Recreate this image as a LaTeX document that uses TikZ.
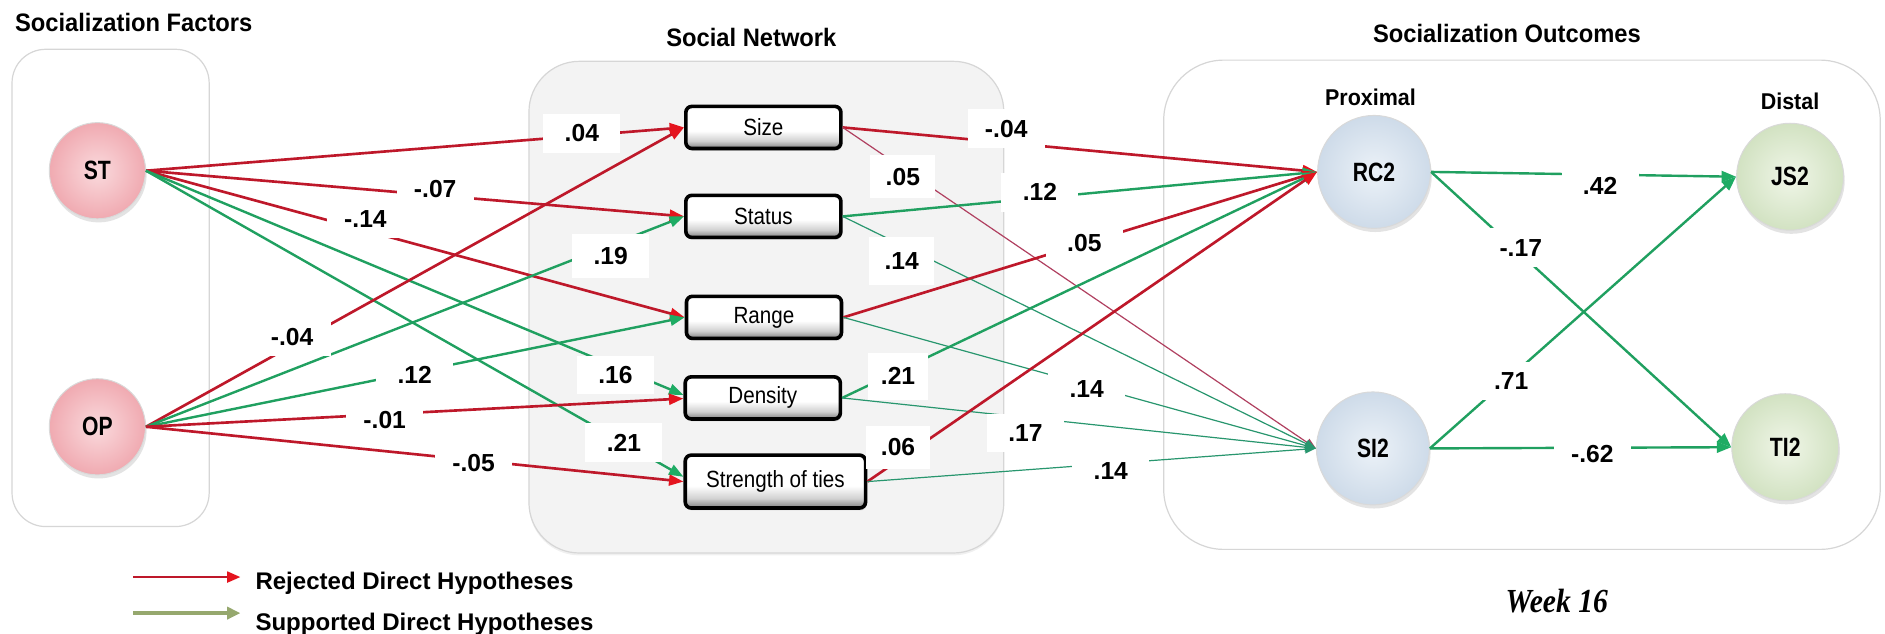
\documentclass[tikz,border=0pt]{standalone}
\usepackage{fontspec}
\setmainfont{Liberation Sans}
\newfontfamily\narrowsans{Liberation Sans}[FakeStretch=0.88]
\newfontfamily\tallsans{Liberation Sans}[FakeStretch=0.8]
\newfontfamily\headsans{Liberation Sans}[FakeStretch=0.94]
\newfontfamily\weekserif{Liberation Serif}[FakeStretch=0.88]
\usetikzlibrary{arrows.meta,shadows}

\definecolor{rejline}{RGB}{190,24,42}
\definecolor{rejhead}{RGB}{228,20,30}
\definecolor{supline}{RGB}{32,160,96}
\definecolor{suphead}{RGB}{30,172,100}
\definecolor{thinrej}{RGB}{176,64,96}
\definecolor{thinsup}{RGB}{40,150,110}
\definecolor{pinkin}{RGB}{250,218,221}
\definecolor{pinkout}{RGB}{240,170,177}
\definecolor{bluein}{RGB}{236,242,248}
\definecolor{blueout}{RGB}{206,219,233}
\definecolor{greenin}{RGB}{240,246,232}
\definecolor{greenout}{RGB}{210,226,194}
\definecolor{groupfill}{RGB}{243,243,243}
\definecolor{groupline}{RGB}{214,214,214}
\definecolor{legsup}{RGB}{150,168,110}

\pgfdeclareverticalshading{netshade}{100bp}{color(0bp)=(black!50); color(25bp)=(black!50); color(34bp)=(black!18); color(46bp)=(white); color(100bp)=(white)}

\tikzset{
  group/.style={draw=groupline, line width=1pt},
  title/.style={font=\headsans\bfseries\fontsize{21}{25}\selectfont},
  subtitle/.style={font=\headsans\bfseries\fontsize{19}{23}\selectfont},
  latent/.style={circle, draw=black!15, line width=0.8pt, inner sep=0pt,
    drop shadow={shadow xshift=1pt, shadow yshift=-3pt, opacity=0.22},
    font=\tallsans\bfseries\fontsize{22}{26}\selectfont},
  factor/.style={latent, minimum size=80pt, inner color=pinkin, outer color=pinkout},
  proximal/.style={latent, minimum size=94pt, inner color=bluein, outer color=blueout},
  distal/.style={latent, minimum size=89pt, inner color=greenin, outer color=greenout},
  netbox/.style={rectangle, rounded corners=5pt, draw=black, line width=3pt,
    shading=netshade, minimum width=129pt, minimum height=35pt, inner sep=0pt,
    drop shadow={shadow xshift=1pt, shadow yshift=-2pt, opacity=0.2},
    font=\narrowsans\fontsize{19.5}{22}\selectfont},
  rej/.style={draw=rejline, line width=2.2pt, -{Triangle[length=12pt,width=9pt,color=rejhead]}},
  sup/.style={draw=supline, line width=2pt, -{Triangle[length=12pt,width=9pt,color=suphead]}},
  rejthin/.style={draw=thinrej, line width=1pt, -{Triangle[length=9pt,width=7pt]}},
  supthin/.style={draw=thinsup, line width=1pt, -{Triangle[length=9pt,width=7pt]}},
  lbl/.style={fill=white, inner sep=0pt, minimum width=64pt, minimum height=32pt,
    font=\bfseries\fontsize{20.5}{24}\selectfont},
  lblnarrow/.style={lbl, minimum width=54pt, minimum height=36pt},
  legendtext/.style={anchor=west, font=\bfseries\fontsize{20}{24}\selectfont},
}

\begin{document}
\begin{tikzpicture}[x=1pt, y=-1pt]
\useasboundingbox (0,0) rectangle (1568,527);

% group panels
\draw[group, fill=white, rounded corners=28pt] (10,41) rectangle (174,438);
\draw[group, fill=groupfill, rounded corners=42pt,
      drop shadow={shadow xshift=0pt, shadow yshift=-2pt, opacity=0.12}] (440,51) rectangle (835,460);
\draw[group, fill=white, rounded corners=50pt] (968,50) rectangle (1564,457);

% panel headings
\node[title, anchor=west] (tfac) at (9,18.5) {Socialization Factors};
\node[title] (tnet) at (625,31) {Social Network};
\node[title] (tout) at (1253.5,27.7) {Socialization Outcomes};
\node[subtitle] (tprox) at (1140,81) {Proximal};
\node[subtitle] (tdist) at (1489,84.6) {Distal};

% socialization factors
\node[factor] (st) at (81,142) {ST};
\node[factor] (op) at (81,355) {OP};

% social network characteristics
\node[netbox] (size) at (635,106) {Size};
\node[netbox] (status) at (635,180) {Status};
\node[netbox] (range) at (635.5,264) {Range};
\node[netbox] (density) at (634.5,331) {Density};
\node[netbox, minimum width=150pt, minimum height=44pt] (ties) at (645,400.6) {Strength of ties};

% outcomes
\node[proximal] (rc2) at (1143,143) {RC2};
\node[proximal] (si2) at (1142,373) {SI2};
\node[distal] (js2) at (1489,147) {JS2};
\node[distal] (ti2) at (1485,372) {TI2};

% paths from socialization factors
\draw[rej] (st.east) -- (size.west);
\draw[rej] (st.east) -- (status.west);
\draw[rej] (st.east) -- (range.west);
\draw[sup] (st.east) -- ([yshift=2.5pt]density.west);
\draw[sup] (st.east) -- ([yshift=4pt]ties.west);
\draw[rej] (op.east) -- (size.west);
\draw[sup] (op.east) -- (status.west);
\draw[sup] (op.east) -- (range.west);
\draw[rej] (op.east) -- ([yshift=-0.5pt]density.west);
\draw[rej] (op.east) -- (ties.west);

% paths from the network to proximal outcomes
\draw[rej] (size.east) -- (rc2.west);
\draw[rejthin] (size.east) -- (si2.west);
\draw[sup] (status.east) -- (rc2.west);
\draw[supthin] (status.east) -- (si2.west);
\draw[rej] (range.east) -- (rc2.west);
\draw[supthin] (range.east) -- (si2.west);
\draw[sup] (density.east) -- (rc2.west);
\draw[supthin] (density.east) -- (si2.west);
\draw[rej] (ties.east) -- (rc2.west);
\draw[supthin] (ties.east) -- (si2.west);

% proximal to distal outcomes
\draw[sup] (rc2.east) -- (js2.west);
\draw[sup] (rc2.east) -- (ti2.west);
\draw[sup] (si2.east) -- (js2.west);
\draw[sup] (si2.east) -- (ti2.west);

% path coefficients
\node[lbl] (c1) at (484,111) {.04};
\node[lbl] (c2) at (362,157) {-.07};
\node[lbl] (c3) at (304,182) {-.14};
\node[lbl] (c4) at (512,312) {.16};
\node[lbl] (c5) at (519,368) {.21};
\node[lbl] (c6) at (243,280) {-.04};
\node[lbl, minimum height=36pt] (c7) at (508,213) {.19};
\node[lbl] (c8) at (345,312) {.12};
\node[lbl] (c9) at (320,349) {-.01};
\node[lbl] (c10) at (394,385) {-.05};
\node[lbl] (c11) at (837,107) {-.04};
\node[lblnarrow] (c12) at (751,147) {.05};
\node[lbl] (c13) at (865,160) {.12};
\node[lblnarrow, minimum height=40pt] (c14) at (750,217) {.14};
\node[lbl] (c15) at (902,202) {.05};
\node[lbl] (c16) at (904,324) {.14};
\node[lblnarrow, minimum width=50pt, minimum height=39pt] (c17) at (747,313) {.21};
\node[lbl] (c18) at (853,360) {.17};
\node[lblnarrow] (c19) at (747,372) {.06};
\node[lbl] (c20) at (924,392) {.14};
\node[lbl] (c21) at (1331,155) {.42};
\node[lbl] (c22) at (1265,206) {-.17};
\node[lbl] (c23) at (1257,317) {.71};
\node[lbl] (c24) at (1324.5,378) {-.62};

% legend
\coordinate (legrejA) at (111,480);
\coordinate (legrejB) at (200,480);
\coordinate (legsupA) at (111,510);
\coordinate (legsupB) at (200,510);
\draw[draw=rejline, line width=2pt, -{Triangle[length=11pt,width=9pt,color=rejhead]}] (legrejA) -- (legrejB);
\draw[draw=legsup, line width=3pt, -{Triangle[length=11pt,width=10pt,color=legsup]}] (legsupA) -- (legsupB);
\node[legendtext] (legrej) at (209,485) {Rejected Direct Hypotheses};
\node[legendtext] (legsup) at (209,519) {Supported Direct Hypotheses};

\node[font=\weekserif\bfseries\itshape\fontsize{28}{32}\selectfont] (week) at (1295,500) {Week 16};
\end{tikzpicture}
\end{document}
